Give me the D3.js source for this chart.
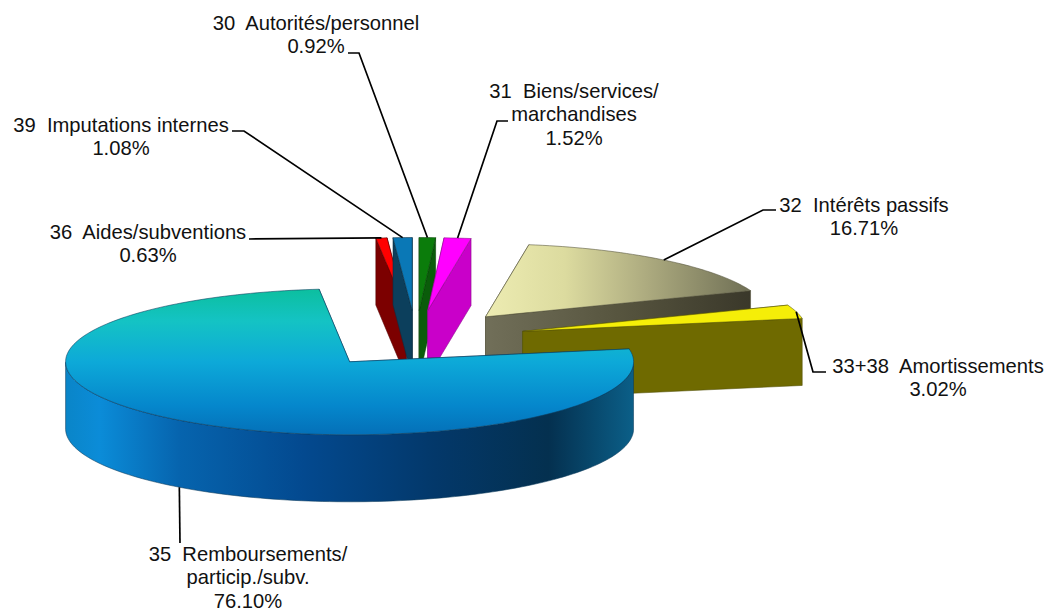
<!DOCTYPE html>
<html>
<head>
<meta charset="utf-8">
<script src="https://cdn.jsdelivr.net/npm/d3@7"></script>
<style>
  html, body { margin: 0; padding: 0; background: #fff; }
  svg { display: block; }
  text { font-family: "Liberation Sans", Arial, sans-serif; font-size: 20.2px; fill: #111; white-space: pre; }
</style>
</head>
<body>
<svg id="chart" width="1049" height="612"></svg>
<script>
// data, clockwise from twelve o'clock
const codes = ["30", "31", "32", "33+38", "35", "36", "39"];
const names = [
  ["Autorités/personnel"],
  ["Biens/services/", "marchandises"],
  ["Intérêts passifs"],
  ["Amortissements"],
  ["Remboursements/", "particip./subv."],
  ["Aides/subventions"],
  ["Imputations internes"]
];
const values = [0.92, 1.52, 16.71, 3.02, 76.1, 0.63, 1.08];

// look of each slice
const topFill = ["#0b7c0b", "#ff00ff", "url(#top32)", "#f5ee08", "url(#top35)", "#ff0000", "#0a78b6"];
const wallFill = ["#0a5c0a", "#c900c9", "url(#wall32)", "#6f6a00", "url(#wall35)", "#7c0000", "#0c3f5c"];
const lineFill = ["#064006", "#8a108a", "#55533c", "#55520a", "#0d3b5c", "#550000", "#0a2c40"];

// label boxes: centre x, first baseline
const labelX = [316, 574, 864, 938, 248, 148, 121];
const labelY = [30, 98, 212, 373, 561, 239, 132];
// elbows of the leader lines, from the label towards the slice
const leaderStart = [
  [[348, 53], [359, 53]],
  [[508, 121], [497, 121]],
  [[776, 210], [763, 210]],
  [[826, 372], [813, 372]],
  [[180, 543]],
  [[249, 239]],
  [[232, 131], [244, 131]]
];

// paint back to front
const drawOrder = [5, 6, 0, 1, 2, 3, 4];

// pie plane
const cx = 416, cy = 339;
const radiusX = 284, radiusY = 73, depth = 67;
const explode = 0.39;

const svg = d3.select("#chart");

const defs = svg.append("defs");
function gradient(id, horizontal, stops) {
  const g = defs.append("linearGradient").attr("id", id)
    .attr("x1", 0).attr("y1", 0)
    .attr("x2", horizontal ? 1 : 0).attr("y2", horizontal ? 0 : 1);
  stops.forEach(s => g.append("stop").attr("offset", s[0]).attr("stop-color", s[1]));
}
gradient("top35", false, [[0, "#0cbf9f"], [0.22, "#14c3c4"], [0.5, "#0da9d8"], [0.8, "#0587cc"], [1, "#0470b8"]]);
gradient("wall35", true, [[0, "#0a85c8"], [0.06, "#0b8cd8"], [0.2, "#0664ae"], [0.42, "#03498f"], [0.65, "#03386a"], [0.85, "#04304f"], [1, "#0b5f88"]]);
gradient("top32", true, [[0, "#edecb2"], [0.3, "#dcdb9f"], [0.6, "#aeac80"], [1, "#6f6f55"]]);
gradient("wall32", true, [[0, "#716f59"], [0.5, "#57553f"], [1, "#3a382a"]]);

const slices = d3.pie().sort(null).value(d => d)(values);

slices.forEach(s => {
  const mid = (s.startAngle + s.endAngle) / 2;
  const ax = explode * Math.sin(mid), ay = -explode * Math.cos(mid);
  const project = (x, y) => [cx + x * radiusX, cy + y * radiusY];
  s.rim = a => project(ax + Math.sin(a), ay - Math.cos(a));
  s.centre = project(ax, ay);
  s.midRim = s.rim(mid);
  const n = Math.max(3, Math.ceil((s.endAngle - s.startAngle) * 40));
  s.arcPoints = d3.range(n + 1).map(k => s.rim(s.startAngle + (s.endAngle - s.startAngle) * k / n));
});

const line = d3.line();
const down = p => [p[0], p[1] + depth];

function face(points, fill, stroke) {
  svg.append("path")
    .attr("d", line(points) + "Z")
    .attr("fill", fill)
    .attr("stroke", stroke)
    .attr("stroke-width", 0.8)
    .attr("stroke-opacity", 0.7)
    .attr("stroke-linejoin", "round");
}

drawOrder.forEach(i => {
  const s = slices[i];
  const first = s.arcPoints[0];
  const last = s.arcPoints[s.arcPoints.length - 1];
  const startWall = [s.centre, first, down(first), down(s.centre)];
  const endWall = [s.centre, last, down(last), down(s.centre)];
  // the edge wall that faces the viewer goes last
  if (first[0] < s.centre[0]) {
    face(endWall, wallFill[i], lineFill[i]);
    face(startWall, wallFill[i], lineFill[i]);
  } else {
    face(startWall, wallFill[i], lineFill[i]);
    face(endWall, wallFill[i], lineFill[i]);
  }
  // only the part of the rim that runs along the front is seen
  const front = s.arcPoints.filter((p, k) => {
    const a = s.startAngle + (s.endAngle - s.startAngle) * k / (s.arcPoints.length - 1);
    return Math.cos(a) <= 0;
  });
  if (front.length > 1) {
    face(front.concat(front.slice().reverse().map(down)), wallFill[i], lineFill[i]);
  }
  face([s.centre].concat(s.arcPoints), topFill[i], lineFill[i]);
});

// leader lines
slices.forEach((s, i) => {
  const end = codes[i] === "35" ? down(s.midRim) : s.midRim;
  svg.append("path")
    .attr("d", line(leaderStart[i].concat([end])))
    .attr("fill", "none")
    .attr("stroke", "#000")
    .attr("stroke-width", 1.7);
});

// labels
slices.forEach((s, i) => {
  const rows = names[i].map((t, k) => (k === 0 ? codes[i] + "  " + t : t));
  rows.push(d3.format(".2f")(values[i]) + "%");
  rows.forEach((t, k) => {
    svg.append("text")
      .attr("x", labelX[i])
      .attr("y", labelY[i] + k * 23.3)
      .attr("text-anchor", "middle")
      .text(t);
  });
});
</script>
</body>
</html>
